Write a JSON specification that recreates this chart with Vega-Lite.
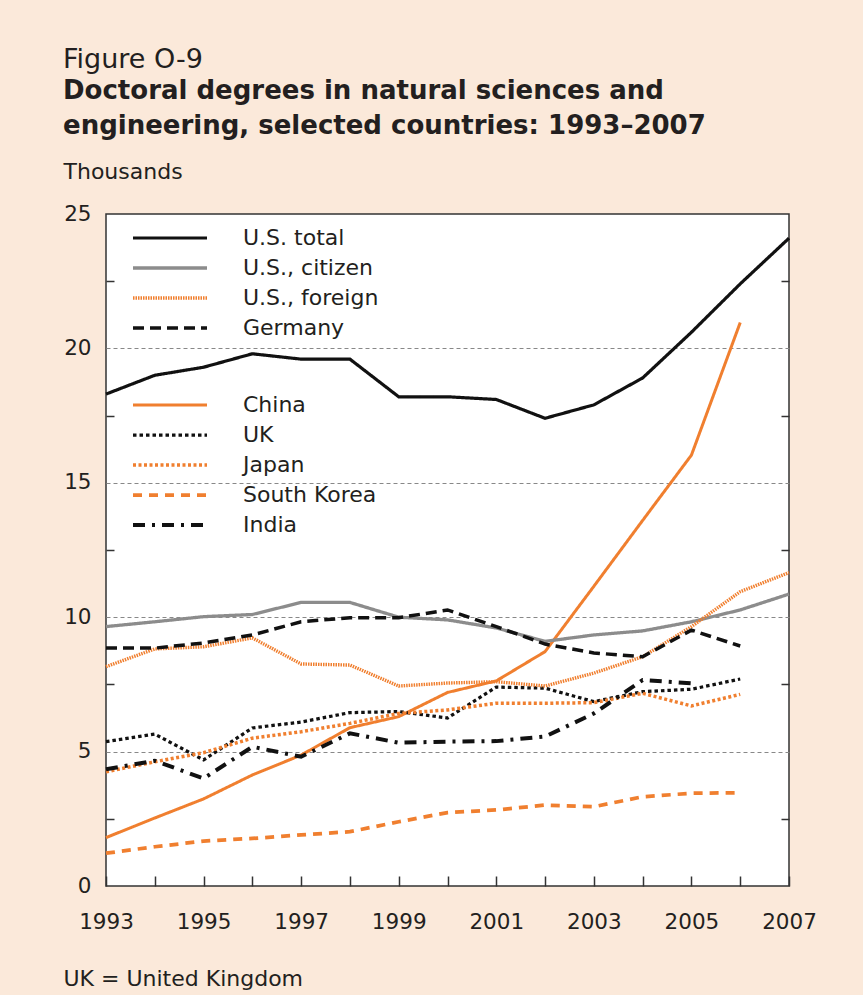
{
  "$schema": "https://vega.github.io/schema/vega-lite/v6.json",
  "width": 683,
  "height": 672,
  "autosize": "none",
  "padding": {"left": 106, "top": 214, "right": 74, "bottom": 109},
  "background": "#fbe9da",
  "title": {
    "text": "Figure O-9",
    "subtitle": ["Doctoral degrees in natural sciences and", "engineering, selected countries: 1993–2007"],
    "anchor": "start",
    "frame": "group",
    "dx": -43,
    "offset": 20,
    "font": "DejaVu Sans",
    "fontSize": 27,
    "fontWeight": "normal",
    "color": "#231f20",
    "subtitleFont": "DejaVu Sans",
    "subtitleFontSize": 26,
    "subtitleFontWeight": "bold",
    "subtitleColor": "#231f20",
    "subtitlePadding": 4,
    "subtitleLineHeight": 35
  },
  "datasets": {
    "us": [
      {"series": "U.S. total", "year": 1993, "value": 18.3},
      {"series": "U.S. total", "year": 1994, "value": 19.0},
      {"series": "U.S. total", "year": 1995, "value": 19.3},
      {"series": "U.S. total", "year": 1996, "value": 19.8},
      {"series": "U.S. total", "year": 1997, "value": 19.6},
      {"series": "U.S. total", "year": 1998, "value": 19.6},
      {"series": "U.S. total", "year": 1999, "value": 18.2},
      {"series": "U.S. total", "year": 2000, "value": 18.2},
      {"series": "U.S. total", "year": 2001, "value": 18.1},
      {"series": "U.S. total", "year": 2002, "value": 17.4},
      {"series": "U.S. total", "year": 2003, "value": 17.9},
      {"series": "U.S. total", "year": 2004, "value": 18.9},
      {"series": "U.S. total", "year": 2005, "value": 20.6},
      {"series": "U.S. total", "year": 2006, "value": 22.4},
      {"series": "U.S. total", "year": 2007, "value": 24.1},
      {"series": "U.S., citizen", "year": 1993, "value": 9.65},
      {"series": "U.S., citizen", "year": 1994, "value": 9.83},
      {"series": "U.S., citizen", "year": 1995, "value": 10.02},
      {"series": "U.S., citizen", "year": 1996, "value": 10.1},
      {"series": "U.S., citizen", "year": 1997, "value": 10.55},
      {"series": "U.S., citizen", "year": 1998, "value": 10.55},
      {"series": "U.S., citizen", "year": 1999, "value": 10.0},
      {"series": "U.S., citizen", "year": 2000, "value": 9.9},
      {"series": "U.S., citizen", "year": 2001, "value": 9.6},
      {"series": "U.S., citizen", "year": 2002, "value": 9.1},
      {"series": "U.S., citizen", "year": 2003, "value": 9.34},
      {"series": "U.S., citizen", "year": 2004, "value": 9.49},
      {"series": "U.S., citizen", "year": 2005, "value": 9.83},
      {"series": "U.S., citizen", "year": 2006, "value": 10.27},
      {"series": "U.S., citizen", "year": 2007, "value": 10.86},
      {"series": "U.S., foreign", "year": 1993, "value": 8.16},
      {"series": "U.S., foreign", "year": 1994, "value": 8.82},
      {"series": "U.S., foreign", "year": 1995, "value": 8.9},
      {"series": "U.S., foreign", "year": 1996, "value": 9.23},
      {"series": "U.S., foreign", "year": 1997, "value": 8.26},
      {"series": "U.S., foreign", "year": 1998, "value": 8.22},
      {"series": "U.S., foreign", "year": 1999, "value": 7.44},
      {"series": "U.S., foreign", "year": 2000, "value": 7.55},
      {"series": "U.S., foreign", "year": 2001, "value": 7.6},
      {"series": "U.S., foreign", "year": 2002, "value": 7.44},
      {"series": "U.S., foreign", "year": 2003, "value": 7.92},
      {"series": "U.S., foreign", "year": 2004, "value": 8.53},
      {"series": "U.S., foreign", "year": 2005, "value": 9.65},
      {"series": "U.S., foreign", "year": 2006, "value": 10.95},
      {"series": "U.S., foreign", "year": 2007, "value": 11.66},
      {"series": "Germany", "year": 1993, "value": 8.85},
      {"series": "Germany", "year": 1994, "value": 8.85},
      {"series": "Germany", "year": 1995, "value": 9.04},
      {"series": "Germany", "year": 1996, "value": 9.34},
      {"series": "Germany", "year": 1997, "value": 9.83},
      {"series": "Germany", "year": 1998, "value": 9.98},
      {"series": "Germany", "year": 1999, "value": 9.98},
      {"series": "Germany", "year": 2000, "value": 10.27},
      {"series": "Germany", "year": 2001, "value": 9.65},
      {"series": "Germany", "year": 2002, "value": 9.0},
      {"series": "Germany", "year": 2003, "value": 8.67},
      {"series": "Germany", "year": 2004, "value": 8.53},
      {"series": "Germany", "year": 2005, "value": 9.52},
      {"series": "Germany", "year": 2006, "value": 8.93}
    ],
    "countries": [
      {"series": "China", "year": 1993, "value": 1.8},
      {"series": "China", "year": 1994, "value": 2.53},
      {"series": "China", "year": 1995, "value": 3.24},
      {"series": "China", "year": 1996, "value": 4.13},
      {"series": "China", "year": 1997, "value": 4.87},
      {"series": "China", "year": 1998, "value": 5.89},
      {"series": "China", "year": 1999, "value": 6.3},
      {"series": "China", "year": 2000, "value": 7.2},
      {"series": "China", "year": 2001, "value": 7.63},
      {"series": "China", "year": 2002, "value": 8.72},
      {"series": "China", "year": 2003, "value": 11.15},
      {"series": "China", "year": 2004, "value": 13.6},
      {"series": "China", "year": 2005, "value": 16.03},
      {"series": "China", "year": 2006, "value": 20.96},
      {"series": "UK", "year": 1993, "value": 5.37},
      {"series": "UK", "year": 1994, "value": 5.65},
      {"series": "UK", "year": 1995, "value": 4.69},
      {"series": "UK", "year": 1996, "value": 5.88},
      {"series": "UK", "year": 1997, "value": 6.1},
      {"series": "UK", "year": 1998, "value": 6.45},
      {"series": "UK", "year": 1999, "value": 6.49},
      {"series": "UK", "year": 2000, "value": 6.25},
      {"series": "UK", "year": 2001, "value": 7.4},
      {"series": "UK", "year": 2002, "value": 7.36},
      {"series": "UK", "year": 2003, "value": 6.86},
      {"series": "UK", "year": 2004, "value": 7.23},
      {"series": "UK", "year": 2005, "value": 7.32},
      {"series": "UK", "year": 2006, "value": 7.7},
      {"series": "Japan", "year": 1993, "value": 4.25},
      {"series": "Japan", "year": 1994, "value": 4.62},
      {"series": "Japan", "year": 1995, "value": 4.96},
      {"series": "Japan", "year": 1996, "value": 5.5},
      {"series": "Japan", "year": 1997, "value": 5.74},
      {"series": "Japan", "year": 1998, "value": 6.05},
      {"series": "Japan", "year": 1999, "value": 6.42},
      {"series": "Japan", "year": 2000, "value": 6.55},
      {"series": "Japan", "year": 2001, "value": 6.8},
      {"series": "Japan", "year": 2002, "value": 6.8},
      {"series": "Japan", "year": 2003, "value": 6.82},
      {"series": "Japan", "year": 2004, "value": 7.17},
      {"series": "Japan", "year": 2005, "value": 6.7},
      {"series": "Japan", "year": 2006, "value": 7.13},
      {"series": "South Korea", "year": 1993, "value": 1.22},
      {"series": "South Korea", "year": 1994, "value": 1.46},
      {"series": "South Korea", "year": 1995, "value": 1.67},
      {"series": "South Korea", "year": 1996, "value": 1.77},
      {"series": "South Korea", "year": 1997, "value": 1.9},
      {"series": "South Korea", "year": 1998, "value": 2.02},
      {"series": "South Korea", "year": 1999, "value": 2.39},
      {"series": "South Korea", "year": 2000, "value": 2.73},
      {"series": "South Korea", "year": 2001, "value": 2.83},
      {"series": "South Korea", "year": 2002, "value": 3.01},
      {"series": "South Korea", "year": 2003, "value": 2.95},
      {"series": "South Korea", "year": 2004, "value": 3.32},
      {"series": "South Korea", "year": 2005, "value": 3.45},
      {"series": "South Korea", "year": 2006, "value": 3.47},
      {"series": "India", "year": 1993, "value": 4.34},
      {"series": "India", "year": 1994, "value": 4.66},
      {"series": "India", "year": 1995, "value": 4.0},
      {"series": "India", "year": 1996, "value": 5.18},
      {"series": "India", "year": 1997, "value": 4.81},
      {"series": "India", "year": 1998, "value": 5.68},
      {"series": "India", "year": 1999, "value": 5.33},
      {"series": "India", "year": 2000, "value": 5.37},
      {"series": "India", "year": 2001, "value": 5.39},
      {"series": "India", "year": 2002, "value": 5.56},
      {"series": "India", "year": 2003, "value": 6.42},
      {"series": "India", "year": 2004, "value": 7.66},
      {"series": "India", "year": 2005, "value": 7.54}
    ]
  },
  "layer": [
    {
      "data": {"name": "countries"},
      "mark": {"type": "line", "strokeCap": "butt"},
      "encoding": {
        "x": {
          "field": "year", "type": "quantitative",
          "scale": {"domain": [1993, 2007], "nice": false, "zero": false},
          "axis": {
            "orient": "bottom",
            "values": [1993, 1995, 1997, 1999, 2001, 2003, 2005, 2007],
            "format": "d", "ticks": false, "domain": false, "grid": false,
            "labelFont": "DejaVu Sans", "labelFontSize": 21.5, "labelPadding": 25,
            "labelColor": "#231f20", "labelFlush": false, "labelOverlap": false,
            "title": "UK = United Kingdom", "titleAngle": 0, "titleAlign": "left",
            "titleBaseline": "alphabetic", "titleX": -43, "titleY": 99,
            "titleFont": "DejaVu Sans", "titleFontSize": 22, "titleFontWeight": "normal",
            "titleColor": "#231f20"
          }
        },
        "y": {
          "field": "value", "type": "quantitative",
          "scale": {"domain": [0, 25], "nice": false},
          "axis": {
            "orient": "left",
            "values": [0, 5, 10, 15, 20, 25],
            "ticks": false, "domain": false, "grid": false,
            "labelFont": "DejaVu Sans", "labelFontSize": 21.5, "labelPadding": 15,
            "labelColor": "#231f20",
            "title": "Thousands", "titleAngle": 0, "titleAlign": "left",
            "titleBaseline": "alphabetic", "titleX": -43, "titleY": -36,
            "titleFont": "DejaVu Sans", "titleFontSize": 22, "titleFontWeight": "normal",
            "titleColor": "#231f20"
          }
        },
        "color": {
          "field": "series", "type": "nominal",
          "scale": {"domain": ["China", "UK", "Japan", "South Korea", "India"], "range": ["#f07f2f", "#111111", "#f07f2f", "#f07f2f", "#111111"]},
          "legend": {"orient": "none", "legendX": 25, "legendY": 176, "title": null}
        },
        "strokeDash": {
          "field": "series", "type": "nominal",
          "scale": {"domain": ["China", "UK", "Japan", "South Korea", "India"], "range": [[1, 0], [3.5, 3], [3, 2.5], [9, 7], [12, 7, 3, 7]]},
          "legend": {"orient": "none", "legendX": 25, "legendY": 176, "title": null}
        },
        "strokeWidth": {
          "field": "series", "type": "nominal",
          "scale": {"domain": ["China", "UK", "Japan", "South Korea", "India"], "range": [3, 4, 4, 3.2, 3.5]},
          "legend": {"orient": "none", "legendX": 25, "legendY": 176, "title": null}
        }
      }
    },
    {
      "data": {"name": "us"},
      "mark": {"type": "line", "strokeCap": "butt"},
      "encoding": {
        "x": {
          "field": "year", "type": "quantitative",
          "axis": {
            "orient": "bottom",
            "values": [1993, 1994, 1995, 1996, 1997, 1998, 1999, 2000, 2001, 2002, 2003, 2004, 2005, 2006, 2007],
            "labels": false, "domain": false, "grid": false, "ticks": true,
            "tickSize": -10, "tickColor": "#333333", "tickWidth": 1.5, "title": null
          }
        },
        "y": {
          "field": "value", "type": "quantitative",
          "axis": {
            "orient": "left",
            "values": [2.5, 5, 7.5, 10, 12.5, 15, 17.5, 20, 22.5],
            "labels": false, "domain": false, "ticks": true,
            "tickSize": -8, "tickColor": "#333333", "tickWidth": 1.5,
            "tickOpacity": {"condition": {"test": "datum.value % 5 === 0", "value": 0}, "value": 1},
            "grid": true, "gridColor": "#888888", "gridDash": [4, 3], "gridWidth": 1,
            "gridOpacity": {"condition": {"test": "datum.value % 5 === 0", "value": 1}, "value": 0},
            "title": null
          }
        },
        "color": {
          "field": "series", "type": "nominal",
          "scale": {"domain": ["U.S. total", "U.S., citizen", "U.S., foreign", "Germany"], "range": ["#111111", "#8c8c8c", "#f07f2f", "#111111"]},
          "legend": {"orient": "none", "legendX": 25, "legendY": 9, "title": null}
        },
        "strokeDash": {
          "field": "series", "type": "nominal",
          "scale": {"domain": ["U.S. total", "U.S., citizen", "U.S., foreign", "Germany"], "range": [[1, 0], [1, 0], [1.5, 1], [11, 6]]},
          "legend": {"orient": "none", "legendX": 25, "legendY": 9, "title": null}
        },
        "strokeWidth": {
          "field": "series", "type": "nominal",
          "scale": {"domain": ["U.S. total", "U.S., citizen", "U.S., foreign", "Germany"], "range": [3.2, 3.5, 2.4, 3.5]},
          "legend": {"orient": "none", "legendX": 25, "legendY": 9, "title": null}
        }
      }
    },
    {
      "data": {"name": "us"},
      "mark": {"type": "line", "opacity": 0},
      "encoding": {
        "x": {"field": "year", "type": "quantitative", "axis": null},
        "y": {
          "field": "value", "type": "quantitative",
          "axis": {
            "orient": "right",
            "values": [2.5, 7.5, 12.5, 17.5, 22.5],
            "labels": false, "domain": false, "grid": false, "ticks": true,
            "tickSize": -8, "tickColor": "#333333", "tickWidth": 1.5, "title": null
          }
        },
        "detail": {"field": "series", "type": "nominal"}
      }
    }
  ],
  "resolve": {
    "scale": {"color": "independent", "strokeDash": "independent", "strokeWidth": "independent"},
    "legend": {"color": "independent", "strokeDash": "independent", "strokeWidth": "independent"},
    "axis": {"x": "independent", "y": "independent"}
  },
  "config": {
    "view": {"fill": "white", "stroke": "#333333", "strokeWidth": 1.5},
    "font": "DejaVu Sans",
    "legend": {
      "symbolType": "stroke",
      "symbolSize": 5476,
      "labelFont": "DejaVu Sans",
      "labelFontSize": 22,
      "labelColor": "#231f20",
      "labelOffset": 34,
      "labelLimit": 400,
      "clipHeight": 30,
      "rowPadding": 0,
      "padding": 0,
      "symbolOffset": 0
    }
  }
}
